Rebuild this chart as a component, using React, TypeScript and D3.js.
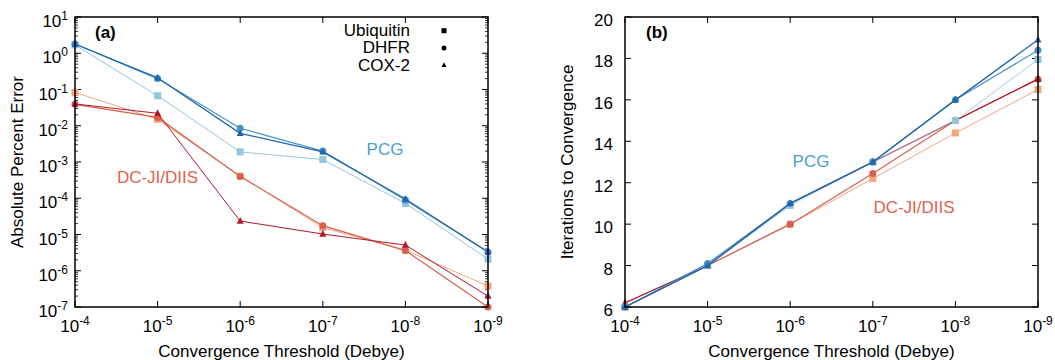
import React from "react";
import * as d3 from "d3";

const thresholds = [1e-4, 1e-5, 1e-6, 1e-7, 1e-8, 1e-9];
const xTickExps = [-4, -5, -6, -7, -8, -9];
const yTickExpsA = [1, 0, -1, -2, -3, -4, -5, -6, -7];
const yTicksB = [6, 8, 10, 12, 14, 16, 18, 20];

// Panel (a): absolute percent error
const errPcgUbiquitin = [1.7, 0.067, 0.0019, 0.00117, 7.2e-5, 2.1e-6];
const errPcgDhfr = [1.8, 0.2, 0.0085, 0.002, 9e-5, 3.3e-6];
const errPcgCox2 = [1.8, 0.21, 0.0062, 0.0019, 9.5e-5, 3.3e-6];
const errDcUbiquitin = [0.083, 0.015, 4.1e-4, 1.55e-5, 3.7e-6, 3.8e-7];
const errDcDhfr = [0.039, 0.017, 4e-4, 1.75e-5, 3.6e-6, 1e-7];
const errDcCox2 = [0.04, 0.022, 2.35e-5, 1.03e-5, 5.1e-6, 2.0e-7];

// Panel (b): iterations to convergence
const itPcgUbiquitin = [6, 8, 10.9, 13, 15, 17.95];
const itPcgDhfr = [6, 8.1, 11, 13, 16, 18.4];
const itPcgCox2 = [6, 8, 11, 13, 16, 18.9];
const itDcUbiquitin = [6, 8, 10, 12.2, 14.4, 16.5];
const itDcDhfr = [6, 8, 10, 12.45, 15, 17];
const itDcCox2 = [6.2, 8, 11, 13, 15, 17];

const proteins = ["Ubiquitin", "DHFR", "COX-2"];
const shapes = ["square", "circle", "triangle"];

const C = {
  pcgU: "#92c5de",
  pcgD: "#4393c3",
  pcgC: "#2166ac",
  dcU: "#f4a582",
  dcD: "#d6604d",
  dcC: "#b2182b",
};

const FONT = "'Liberation Sans', Arial, Helvetica, sans-serif";
const FS = 17;

type Series = { vals: number[]; color: string; shape: string; width: number; opacity?: number };

function Marker({ x, y, shape, color, size }: { x: number; y: number; shape: string; color: string; size: number }) {
  if (shape === "square")
    return <rect x={x - size / 2} y={y - size / 2} width={size} height={size} fill={color} />;
  if (shape === "circle") return <circle cx={x} cy={y} r={size / 2} fill={color} />;
  const h = size * 0.95;
  return (
    <path
      d={`M${x},${y - h * 0.6} L${x + size / 2},${y + h * 0.4} L${x - size / 2},${y + h * 0.4} Z`}
      fill={color}
    />
  );
}

function Pow({ x, y, exp, anchor }: { x: number; y: number; exp: number; anchor: string }) {
  return (
    <text x={x} y={y} textAnchor={anchor} fontFamily={FONT} fontSize={FS} fill="#000">
      10
      <tspan dy={-7} fontSize={12}>
        {String(exp)}
      </tspan>
    </text>
  );
}

function PanelA() {
  const L = 75, R = 488, T = 17, B = 307;
  const x = d3.scaleLog().domain([1e-4, 1e-9]).range([L, R]);
  const y = d3.scaleLog().domain([1e-7, 1e1]).range([B, T]);
  const line = (vals: number[]) =>
    d3.line<number>().x((_, i) => x(thresholds[i])).y((v) => y(v))(vals) || "";
  const series: Series[] = [
    { vals: errDcUbiquitin, color: C.dcU, shape: "square", width: 1 },
    { vals: errDcDhfr, color: C.dcD, shape: "circle", width: 1.2 },
    { vals: errDcCox2, color: C.dcC, shape: "triangle", width: 1 },
    { vals: errPcgUbiquitin, color: C.pcgU, shape: "square", width: 1 },
    { vals: errPcgDhfr, color: C.pcgD, shape: "circle", width: 1.2 },
    { vals: errPcgCox2, color: C.pcgC, shape: "triangle", width: 1.3 },
  ];
  const minor: number[] = [];
  for (let e = -7; e < 1; e++) for (let k = 2; k <= 9; k++) minor.push(k * Math.pow(10, e));
  return (
    <g>
      {yTickExpsA.map((e) => {
        const yy = y(Math.pow(10, e));
        return (
          <g key={"ya" + e}>
            <line x1={L} x2={L + 6} y1={yy} y2={yy} stroke="#000" />
            <line x1={R} x2={R - 6} y1={yy} y2={yy} stroke="#000" />
            <Pow x={L - 7} y={yy + 10} exp={e} anchor="end" />
          </g>
        );
      })}
      {minor.map((v, i) => (
        <g key={"mn" + i}>
          <line x1={L} x2={L + 3} y1={y(v)} y2={y(v)} stroke="#000" strokeWidth={0.8} />
          <line x1={R} x2={R - 3} y1={y(v)} y2={y(v)} stroke="#000" strokeWidth={0.8} />
        </g>
      ))}
      {xTickExps.map((e) => {
        const xx = x(Math.pow(10, e));
        return (
          <g key={"xa" + e}>
            <line x1={xx} x2={xx} y1={B} y2={B - 6} stroke="#000" />
            <line x1={xx} x2={xx} y1={T} y2={T + 6} stroke="#000" />
            <Pow x={xx} y={B + 25} exp={e} anchor="middle" />
          </g>
        );
      })}
      {series.map((s, i) => (
        <g key={"sa" + i}>
          <path d={line(s.vals)} fill="none" stroke={s.color} strokeWidth={s.width} />
          {s.vals.map((v, j) => (
            <Marker key={j} x={x(thresholds[j])} y={y(v)} shape={s.shape} color={s.color} size={7} />
          ))}
        </g>
      ))}
      <rect x={L} y={T} width={R - L} height={B - T} fill="none" stroke="#000" strokeWidth={1.5} />
      <text x={95} y={38} fontFamily={FONT} fontSize={FS} fontWeight="bold">(a)</text>
      {proteins.map((p, i) => (
        <g key={"lg" + p}>
          <text x={410} y={36 + i * 17.3} textAnchor="end" fontFamily={FONT} fontSize={FS}>{p}</text>
          <Marker x={444} y={30.7 + i * 17.2} shape={shapes[i]} color="#000" size={5} />
        </g>
      ))}
      <text x={385} y={155} textAnchor="middle" fontFamily={FONT} fontSize={FS} fill="#4a9fd0">PCG</text>
      <text x={157.5} y={183} textAnchor="middle" fontFamily={FONT} fontSize={FS} fill="#e0634f">DC-JI/DIIS</text>
      <text x={(L + R) / 2} y={357} textAnchor="middle" fontFamily={FONT} fontSize={FS}>
        Convergence Threshold (Debye)
      </text>
      <text
        transform={`translate(23,${(T + B) / 2}) rotate(-90)`}
        textAnchor="middle"
        fontFamily={FONT}
        fontSize={FS}
      >
        Absolute Percent Error
      </text>
    </g>
  );
}

function PanelB() {
  const L = 625, R = 1038, T = 17, B = 307;
  const x = d3.scaleLog().domain([1e-4, 1e-9]).range([L, R]);
  const y = d3.scaleLinear().domain([6, 20]).range([B, T]);
  const line = (vals: number[]) =>
    d3.line<number>().x((_, i) => x(thresholds[i])).y((v) => y(v))(vals) || "";
  const series: Series[] = [
    { vals: itDcUbiquitin, color: C.dcU, shape: "square", width: 1 },
    { vals: itDcDhfr, color: C.dcD, shape: "circle", width: 1.2 },
    { vals: itDcCox2, color: C.dcC, shape: "triangle", width: 1.2 },
    { vals: itPcgUbiquitin, color: C.pcgU, shape: "square", width: 1.2, opacity: 0.6 },
    { vals: itPcgDhfr, color: C.pcgD, shape: "circle", width: 1.2 },
    { vals: itPcgCox2, color: C.pcgC, shape: "triangle", width: 1.3 },
  ];
  return (
    <g>
      {yTicksB.map((t) => {
        const yy = y(t);
        return (
          <g key={"yb" + t}>
            <line x1={L} x2={L + 6} y1={yy} y2={yy} stroke="#000" />
            <line x1={R} x2={R - 6} y1={yy} y2={yy} stroke="#000" />
            <text x={L - 12} y={yy + 9} textAnchor="end" fontFamily={FONT} fontSize={FS}>{t}</text>
          </g>
        );
      })}
      {xTickExps.map((e) => {
        const xx = x(Math.pow(10, e));
        return (
          <g key={"xb" + e}>
            <line x1={xx} x2={xx} y1={B} y2={B - 6} stroke="#000" />
            <line x1={xx} x2={xx} y1={T} y2={T + 6} stroke="#000" />
            <Pow x={xx} y={B + 25} exp={e} anchor="middle" />
          </g>
        );
      })}
      {series.map((s, i) => (
        <g key={"sb" + i}>
          <path d={line(s.vals)} fill="none" stroke={s.color} strokeWidth={s.width} strokeOpacity={s.opacity ?? 1} />
          {s.vals.map((v, j) => (
            <Marker key={j} x={x(thresholds[j])} y={y(v)} shape={s.shape} color={s.color} size={7} />
          ))}
        </g>
      ))}
      <rect x={L} y={T} width={R - L} height={B - T} fill="none" stroke="#000" strokeWidth={1.5} />
      <text x={646} y={38} fontFamily={FONT} fontSize={FS} fontWeight="bold">(b)</text>
      <text x={811} y={166.5} textAnchor="middle" fontFamily={FONT} fontSize={FS} fill="#4a9fd0">PCG</text>
      <text x={914} y={212.5} textAnchor="middle" fontFamily={FONT} fontSize={FS} fill="#e0634f">DC-JI/DIIS</text>
      <text x={(L + R) / 2} y={357} textAnchor="middle" fontFamily={FONT} fontSize={FS}>
        Convergence Threshold (Debye)
      </text>
      <text
        transform={`translate(573,${(T + B) / 2}) rotate(-90)`}
        textAnchor="middle"
        fontFamily={FONT}
        fontSize={FS}
      >
        Iterations to Convergence
      </text>
    </g>
  );
}

export default function App() {
  return (
    <svg
      width={1055}
      height={360}
      style={{ position: "absolute", left: 0, top: 0, background: "#fff" }}
    >
      <rect width={1055} height={360} fill="#fff" />
      <PanelA />
      <PanelB />
    </svg>
  );
}
